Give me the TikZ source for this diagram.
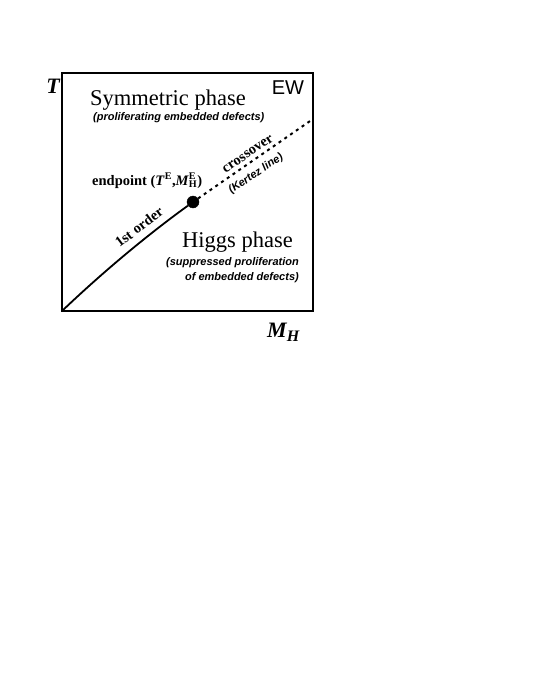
\documentclass[tikz,border=0pt]{standalone}
\usepackage{fontspec}
\setmainfont{Liberation Serif}
\setsansfont{Liberation Sans}
\tikzset{
	dot/.style={draw,circle,fill=black,minimum size=12pt,inner sep=0pt},
	phaselab/.style={inner sep=0pt,font=\fontsize{22.5}{26}\selectfont},
	notelab/.style={inner sep=0pt,font=\sffamily\bfseries\itshape\fontsize{11}{13}\selectfont},
	linelab/.style={inner sep=0pt,font=\bfseries\fontsize{14.5}{17}\selectfont},
	axislab/.style={inner sep=0pt,font=\bfseries\itshape\fontsize{22}{24}\selectfont}
}

\begin{document}
\begin{tikzpicture}[x=1pt,y=-1pt]
\useasboundingbox (0,0) rectangle (536,693);
\draw[line width=2pt] (62,73) rectangle (313,311);
\coordinate (origin) at (62,311);
\coordinate (edge) at (313,119);
\node[dot] (endpoint) at (193,202) {};
\draw[line width=1.8pt] (origin) .. controls (105,270) and (150,233) .. (endpoint);
\draw[line width=2pt,dash pattern=on 3pt off 4pt] (endpoint)--(edge);
\node[axislab] (T) at (53,86) {T};
\node[axislab,anchor=base west] (MH) at (267,337) {M{\fontsize{16}{18}\selectfont\raisebox{-4pt}{H}}};
\node[inner sep=0pt,font=\sffamily\fontsize{20}{24}\selectfont] (EW) at (288,88) {EW};
\node[phaselab,anchor=base west] (sym) at (90,105) {Symmetric phase};
\node[notelab,anchor=base west] (symnote) at (93,120) {(proliferating embedded defects)};
\node[phaselab,anchor=base west] (higgs) at (182,247) {Higgs phase};
\node[notelab,anchor=base east] (higgsnote) at (299,265) {(suppressed proliferation};
\node[notelab,anchor=base east] (higgsnote2) at (299,280) {of embedded defects)};
\node[linelab,anchor=base west] (endlab) at (92,185) {endpoint (\textit{T}\textsuperscript{E},\textit{M}\rlap{\textsuperscript{E}}\textsubscript{H})};
\node[linelab,rotate=37] (first) at (139,227) {1st order};
\node[linelab,rotate=34] (cross) at (248,154) {crossover};
\node[notelab,rotate=34] (kertez) at (256,174) {(Kertez line)};
\end{tikzpicture}
\end{document}
